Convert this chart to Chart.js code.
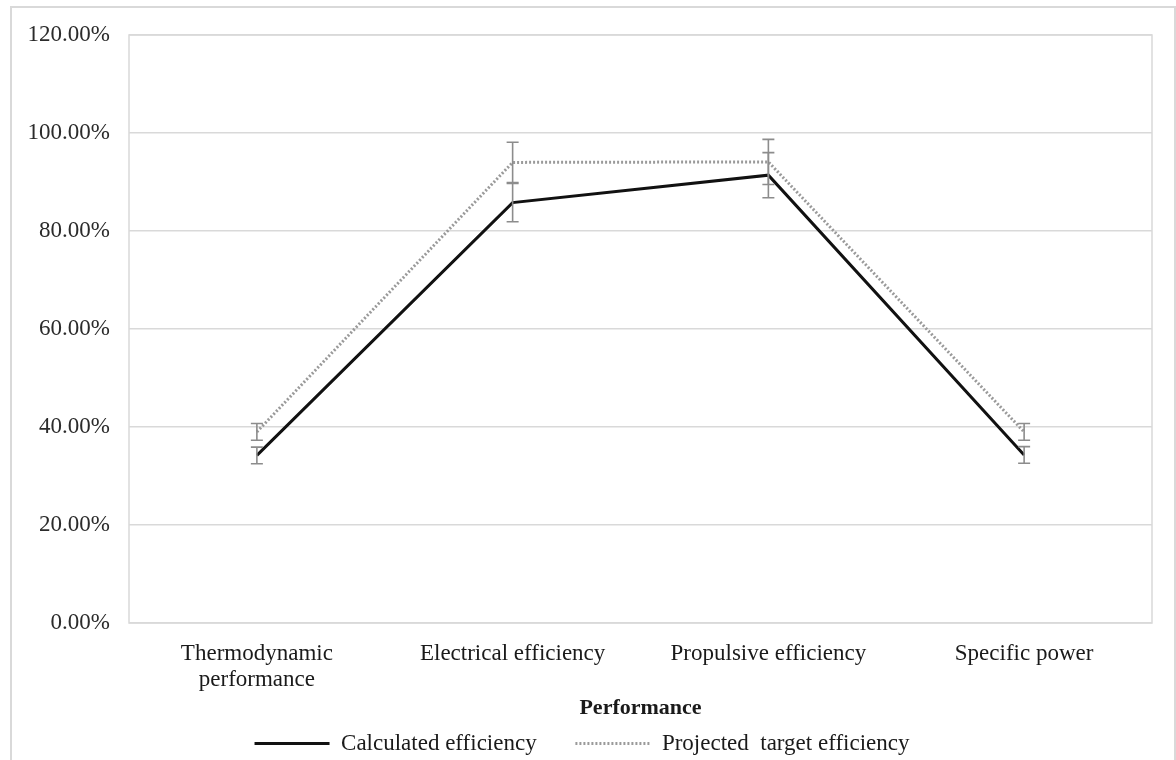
<!DOCTYPE html>
<html>
<head>
<meta charset="utf-8">
<script src="https://cdn.jsdelivr.net/npm/chart.js@4.4.1/dist/chart.umd.min.js"></script>
<style>
  html, body { margin: 0; padding: 0; background: #ffffff; width: 1176px; height: 760px; overflow: hidden; }
  #frame { position: absolute; left: 10px; top: 6px; width: 1166px; height: 754px; border: 2px solid #d9d9d9; border-bottom: none; box-sizing: border-box; }
  #wrap { position: absolute; left: 0; top: 0; width: 1162px; height: 757px; }
</style>
</head>
<body>
<div id="frame"><div id="wrap"><canvas id="c" width="1162" height="757"></canvas></div></div>
<script>
const categories = [["Thermodynamic", "performance"], "Electrical efficiency", "Propulsive efficiency", "Specific power"];
const calculated = [34.2, 85.8, 91.4, 34.3];
const calculatedError = [1.7, 3.9, 4.6, 1.7];
const projected = [39.0, 94.0, 94.1, 39.0];
const projectedError = [1.7, 4.1, 4.6, 1.7];
const yTicks = [0, 20, 40, 60, 80, 100, 120];
const seriesNames = ["Calculated efficiency", "Projected  target efficiency"];
const axisTitle = "Performance";

const FONT = "'Liberation Serif', 'Times New Roman', serif";

const errorBarPlugin = {
  id: 'errorBars',
  afterDatasetsDraw(chart) {
    const ctx = chart.ctx;
    const xs = chart.scales.x, ys = chart.scales.y;
    chart.data.datasets.forEach(ds => {
      const errs = ds.errors;
      if (!errs) return;
      ds.data.forEach((v, i) => {
        const x = xs.getPixelForValue(i);
        const yTop = ys.getPixelForValue(v + errs[i]);
        const yBot = ys.getPixelForValue(v - errs[i]);
        ctx.save();
        ctx.strokeStyle = '#8c8c8c';
        ctx.lineWidth = 1.6;
        ctx.beginPath();
        ctx.moveTo(x, yTop); ctx.lineTo(x, yBot);
        ctx.moveTo(x - 6, yTop); ctx.lineTo(x + 6, yTop);
        ctx.moveTo(x - 6, yBot); ctx.lineTo(x + 6, yBot);
        ctx.stroke();
        ctx.restore();
      });
    });
  }
};

const plotBorder = {
  id: 'plotBorder',
  beforeDatasetsDraw(chart) {
    const a = chart.chartArea, ctx = chart.ctx;
    ctx.save();
    ctx.strokeStyle = '#d9d9d9';
    ctx.lineWidth = 1.5;
    ctx.strokeRect(a.left, a.top, a.right - a.left, a.bottom - a.top);
    ctx.restore();
  }
};

new Chart(document.getElementById('c'), {
  type: 'line',
  data: {
    labels: categories,
    datasets: [
      {
        label: seriesNames[0],
        data: calculated,
        errors: calculatedError,
        borderColor: '#111111',
        backgroundColor: '#111111',
        borderWidth: 3,
        pointRadius: 0,
        tension: 0,
        order: 1
      },
      {
        label: seriesNames[1],
        data: projected,
        errors: projectedError,
        borderColor: '#9a9a9a',
        backgroundColor: '#9a9a9a',
        borderWidth: 3,
        borderDash: [2, 2],
        pointRadius: 0,
        tension: 0,
        order: 2
      }
    ]
  },
  options: {
    responsive: false,
    animation: false,
    layout: { padding: { top: 27, right: 22, left: 0, bottom: 0 } },
    plugins: {
      legend: {
        position: 'bottom',
        labels: {
          font: { family: FONT, size: 23 },
          color: '#1a1a1a',
          boxWidth: 75,
          boxHeight: 0,
          padding: 10,
          generateLabels(chart) {
            return chart.data.datasets.map((ds, i) => ({
              text: ds.label + (i === 0 ? '     ' : ''),
              fillStyle: ds.borderColor,
              strokeStyle: ds.borderColor,
              lineWidth: 3,
              lineDash: ds.borderDash || [],
              hidden: false,
              datasetIndex: i,
              fontColor: '#1a1a1a'
            }));
          }
        }
      },
      tooltip: { enabled: false }
    },
    scales: {
      x: {
        offset: true,
        grid: { display: false, drawTicks: false },
        border: { display: false },
        ticks: { font: { family: FONT, size: 23, lineHeight: 1.13 }, color: '#1a1a1a', padding: 18, maxRotation: 0, autoSkip: false },
        title: { display: true, text: axisTitle, font: { family: FONT, size: 22, weight: 'bold' }, color: '#1a1a1a', padding: { top: 4, bottom: 0 } },
        afterFit(s) { s.height = 99; }
      },
      y: {
        min: 0,
        max: 120,
        afterBuildTicks(s) { s.ticks = yTicks.map(v => ({ value: v })); },
        grid: { color: '#d9d9d9', lineWidth: 1.5, drawTicks: false },
        border: { display: false },
        ticks: { font: { family: FONT, size: 23 }, color: '#2b2b2b', padding: 19, callback: v => v.toFixed(2) + '%' },
        afterFit(s) { s.width = 117; s.paddingTop = 0; s.paddingBottom = 0; }
      }
    }
  },
  plugins: [plotBorder, errorBarPlugin]
});
</script>
</body>
</html>
